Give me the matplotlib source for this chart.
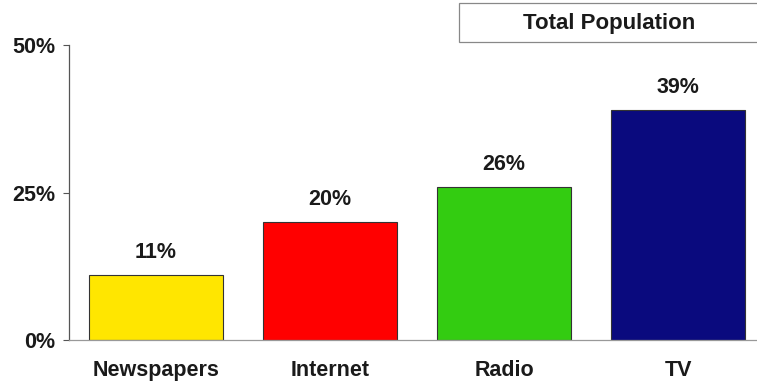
import matplotlib
matplotlib.use("Agg")
import matplotlib.pyplot as plt
from matplotlib.patches import Rectangle

categories = ["Newspapers", "Internet", "Radio", "TV"]
values = [11, 20, 26, 39]
colors = ["#FFE600", "#FF0000", "#33CC11", "#0A0A7E"]
yticks = [0, 25, 50]
ytick_labels = ["0%", "25%", "50%"]
title = "Total Population"

plt.rcParams['font.family'] = ['Liberation Sans', 'DejaVu Sans']

W, H = 757, 382
fig = plt.figure(figsize=(W / 100, H / 100), dpi=100)
ax = fig.add_axes([69 / W, (H - 340) / H, (757 - 69) / W, (340 - 45) / H])

FS = 15.5
x = list(range(len(categories)))
ax.bar(x, values, width=0.775, color=colors, edgecolor="#333333", linewidth=0.8, zorder=2)
for xi, v in zip(x, values):
    ax.text(xi, v + 2.0, f"{v}%", ha="center", va="bottom", fontsize=FS, fontweight="bold", color="#1a1a1a")

ax.set_xlim(-0.5, 3.454)
ax.set_ylim(0, 50)
ax.set_yticks(yticks)
ax.set_yticklabels(ytick_labels, fontsize=FS, fontweight="bold", color="#1a1a1a")
ax.set_xticks(x)
ax.set_xticklabels(categories, fontsize=FS, fontweight="bold", color="#1a1a1a")
ax.tick_params(axis="x", length=0, pad=14.5)
ax.tick_params(axis="y", length=4, width=0.8, color="#555555", pad=6)
for s in ["top", "right"]:
    ax.spines[s].set_visible(False)
ax.spines["left"].set_color("#555555")
ax.spines["bottom"].set_color("#999999")
ax.spines["left"].set_linewidth(0.9)
ax.spines["bottom"].set_linewidth(0.9)

# title box
box = Rectangle((459 / W, (H - 42) / H), (800 - 459) / W, 39 / H, transform=fig.transFigure,
                facecolor="white", edgecolor="#888888", linewidth=0.9)
fig.patches.append(box)
fig.text(609 / W, (H - 23) / H, title, ha="center", va="center", fontsize=16, fontweight="bold", color="#1a1a1a")

fig.savefig("out.png", dpi=100)
